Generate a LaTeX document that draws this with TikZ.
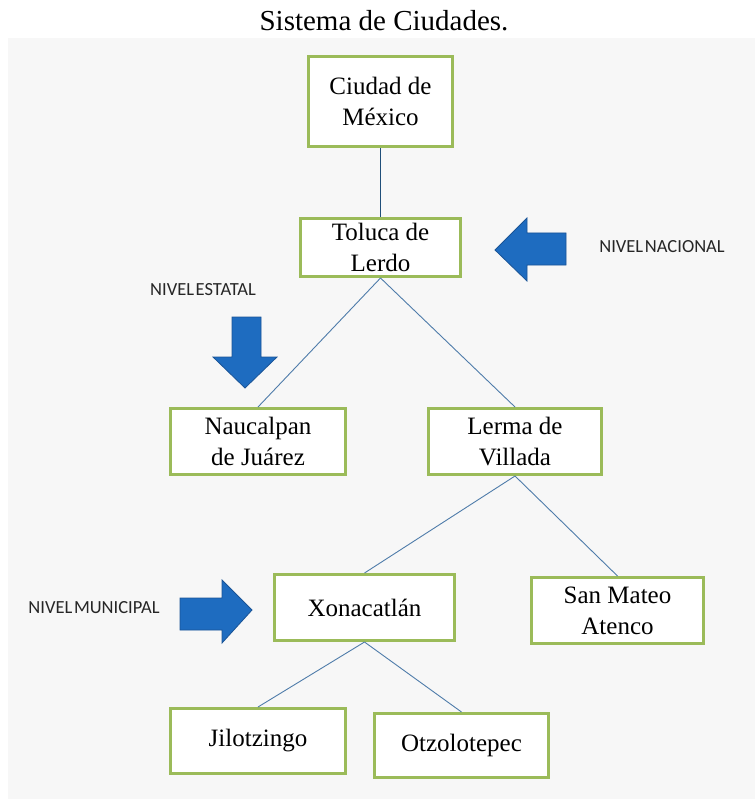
\documentclass[tikz,border=0pt]{standalone}
\usepackage{fontspec}
\setmainfont{Liberation Serif}
\newfontfamily\levelfont[WordSpace=0.4]{Carlito}
\definecolor{boxgreen}{RGB}{155,187,89}
\definecolor{linkblue}{RGB}{79,124,170}
\definecolor{darklink}{RGB}{31,78,121}
\definecolor{arrowblue}{RGB}{30,108,192}
\definecolor{arrowedge}{RGB}{26,84,150}
\definecolor{paper}{RGB}{247,247,247}
\tikzset{city/.style={draw=boxgreen,line width=3pt,fill=white,align=center,
        font=\fontsize{25}{31}\selectfont,inner sep=0pt},
    link/.style={linkblue,line width=0.9pt},
    levelarrow/.style={fill=arrowblue,draw=arrowedge,line width=0.8pt,line join=miter},
    level/.style={font=\levelfont\fontsize{18.5}{20}\selectfont,text=black!85,inner sep=0pt}}

\begin{document}
\begin{tikzpicture}[x=1pt,y=-1pt]
    \useasboundingbox (0,0) rectangle (755,799);
    \fill[paper] (8,38) rectangle (755,799);
    \node (title) at (384,21) {\fontsize{29}{33}\selectfont Sistema de Ciudades.};
    % cities
    \node[city,minimum width=144pt,minimum height=90pt] (mexico) at (380.5,101.5) {Ciudad de\\México};
    \node[city,minimum width=160pt,minimum height=58pt] (toluca) at (380.5,247.5) {Toluca de\\Lerdo};
    \node[city,minimum width=175pt,minimum height=66pt] (naucalpan) at (258,441.5) {Naucalpan\\de Juárez};
    \node[city,minimum width=173pt,minimum height=66pt] (lerma) at (515,441.5) {Lerma de\\Villada};
    \node[city,minimum width=180pt,minimum height=66pt] (xonacatlan) at (364.5,607.5) {Xonacatlán};
    \node[city,minimum width=172pt,minimum height=66pt] (sanmateo) at (617.5,610.5) {San Mateo\\Atenco};
    \node[city,minimum width=175pt,minimum height=65pt] (jilotzingo) at (258,741) {Jilotzingo};
    \node[city,minimum width=174pt,minimum height=64pt] (otzolotepec) at (461.5,745.5) {Otzolotepec};
    % links
    \draw[link,darklink] (mexico.south) -- (toluca.north);
    \draw[link] (toluca.south) -- (naucalpan.north);
    \draw[link] (toluca.south) -- (lerma.north);
    \draw[link] (lerma.south) -- (xonacatlan.north);
    \draw[link] (lerma.south) -- (sanmateo.north);
    \draw[link] (xonacatlan.south) -- (jilotzingo.north);
    \draw[link] (xonacatlan.south) -- (otzolotepec.north);
    % levels
    \draw[levelarrow] (566,233) -- (527,233) -- (527,218) -- (495,250)
      -- (527,281) -- (527,265) -- (566,265) -- cycle;
    \node[level] (nacional) at (662,247) {NIVEL NACIONAL};
    \draw[levelarrow] (232,317) -- (261,317) -- (261,357) -- (277,357) -- (245,388)
      -- (213,357) -- (232,357) -- cycle;
    \node[level] (estatal) at (203,290) {NIVEL ESTATAL};
    \draw[levelarrow] (180,598) -- (222,598) -- (222,580) -- (252,610)
      -- (222,643) -- (222,630) -- (180,630) -- cycle;
    \node[level] (municipal) at (94,608) {NIVEL MUNICIPAL};
\end{tikzpicture}
\end{document}
